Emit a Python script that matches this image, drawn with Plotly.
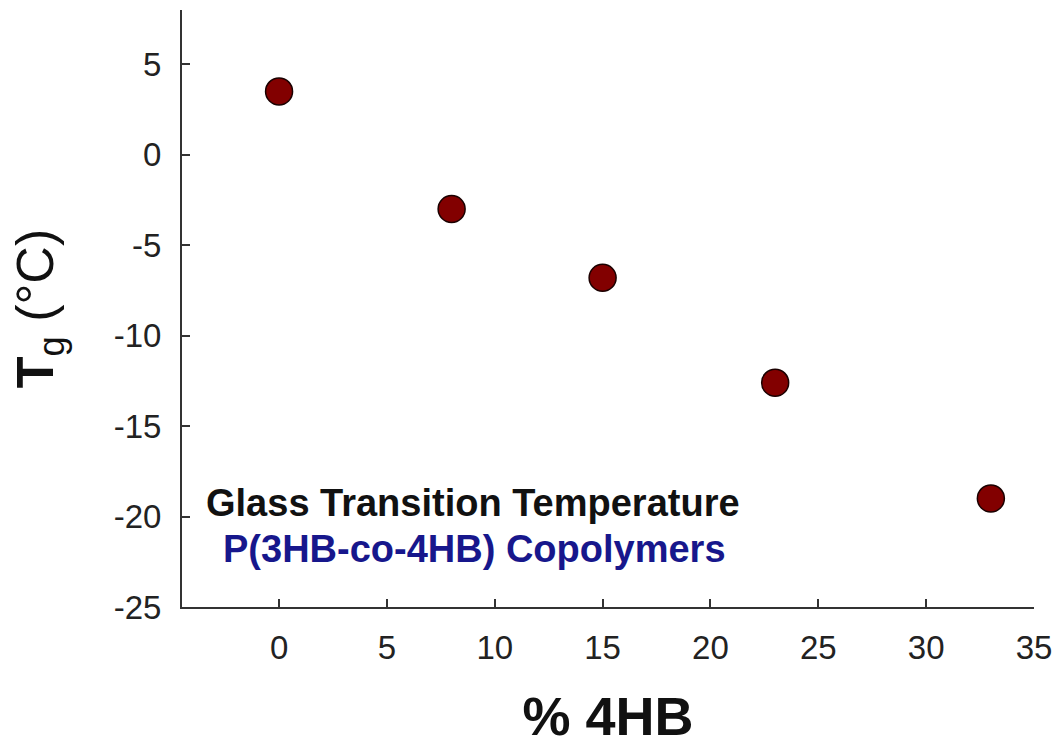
import plotly.graph_objects as go

pct_4hb = [0, 8, 15, 23, 33]
tg_c = [3.5, -3.0, -6.8, -12.6, -19.0]
x_ticks = [0, 5, 10, 15, 20, 25, 30, 35]
y_ticks = [5, 0, -5, -10, -15, -20, -25]
ann_title = "Glass Transition Temperature"
ann_sub = "P(3HB-co-4HB) Copolymers"

FONT = "Liberation Sans, Arial, sans-serif"

fig = go.Figure()
fig.add_trace(go.Scatter(
    x=pct_4hb, y=tg_c, mode="markers",
    marker=dict(size=27, color="#820000", line=dict(color="#1a0000", width=1.5)),
    showlegend=False,
))

axis_common = dict(
    showline=True, linecolor="#333333", linewidth=2,
    ticks="inside", ticklen=8, tickwidth=1.5, tickcolor="#333333",
    showgrid=False, zeroline=False, mirror=False,
    tickfont=dict(family=FONT, size=33, color="#222222"),
)

fig.update_xaxes(
    range=[-4.5, 35], tickvals=x_ticks, ticktext=[str(v) for v in x_ticks],
    ticklabelstandoff=10,
    title=dict(text="<b>% 4HB</b>", font=dict(family=FONT, size=54, color="#111111"), standoff=40),
    **axis_common,
)
fig.update_yaxes(
    range=[-25, 8], tickvals=y_ticks, ticktext=[str(v) for v in y_ticks],
    ticklabelstandoff=12,
    title=dict(text="<b>T</b><sub>g</sub> (°C)", font=dict(family=FONT, size=52, color="#111111"), standoff=43),
    **axis_common,
)

fig.add_annotation(
    xref="paper", yref="paper", x=(473 - 182) / 852, y=(607 - 503) / 597,
    text=f"<b>{ann_title}</b>", showarrow=False,
    font=dict(family=FONT, size=38, color="#111111"), xanchor="center", yanchor="middle",
)
fig.add_annotation(
    xref="paper", yref="paper", x=(474 - 182) / 852, y=(607 - 549) / 597,
    text=f"<b>{ann_sub}</b>", showarrow=False,
    font=dict(family=FONT, size=38, color="#17178c"), xanchor="center", yanchor="middle",
)

fig.update_layout(
    width=1055, height=746,
    margin=dict(l=182, r=21, t=10, b=139, autoexpand=False),
    paper_bgcolor="white", plot_bgcolor="white",
)

fig.write_html("out.html")
